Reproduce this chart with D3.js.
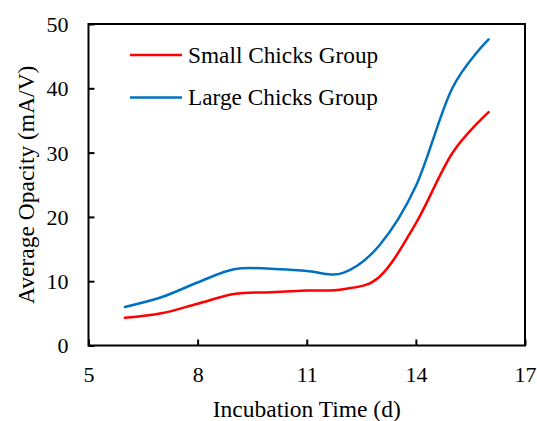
<!DOCTYPE html>
<html>
<head>
<meta charset="utf-8">
<script src="https://cdn.jsdelivr.net/npm/d3@7"></script>
<style>
  body { margin: 0; background: #fff; }
  svg { display: block; }
  svg text { font-family: "Liberation Serif", "Times New Roman", Times, Tinos, "DejaVu Serif", serif !important; fill: #000; }
</style>
</head>
<body>
<svg id="chart" width="537" height="421"></svg>
<script>
const days = [6, 7, 8, 9, 10, 11, 12, 13, 14, 15, 16];
const smallChicks = [4.3, 5.0, 6.5, 8.0, 8.3, 8.55, 8.75, 10.7, 19.0, 29.9, 36.3];
const largeChicks = [6.0, 7.5, 9.8, 11.85, 11.95, 11.6, 11.3, 15.6, 24.8, 40.0, 47.6];
const xTicks = [5, 8, 11, 14, 17];
const yTicks = [0, 10, 20, 30, 40, 50];
const seriesNames = ["Small Chicks Group", "Large Chicks Group"];
const seriesColors = ["#FF0000", "#0070C0"];

const svg = d3.select("#chart");
const mL = 88.5, mR = 525, mT = 24, mB = 345.5;

const x = d3.scaleLinear().domain([5, 17]).range([mL, mR]);
const y = d3.scaleLinear().domain([0, 50]).range([mB, mT]);

// frame
svg.append("rect")
  .attr("x", mL).attr("y", mT)
  .attr("width", mR - mL).attr("height", mB - mT)
  .attr("fill", "none").attr("stroke", "#000").attr("stroke-width", 2);

// x axis
const xAxis = d3.axisBottom(x).tickValues(xTicks).tickSizeInner(-6).tickSizeOuter(0).tickPadding(14);
const gx = svg.append("g").attr("transform", `translate(0,${mB})`).call(xAxis);
gx.attr("font-family", null).attr("font-size", null);
gx.select(".domain").remove();
gx.selectAll(".tick line").attr("stroke", "#000").attr("stroke-width", 2);
gx.selectAll(".tick text").style("font-size", "22px").attr("fill", "#000").attr("dy", "0.71em").attr("y", 21);

// y axis
const yAxis = d3.axisLeft(y).tickValues(yTicks).tickSizeInner(-6).tickSizeOuter(0).tickPadding(20);
const gy = svg.append("g").attr("transform", `translate(${mL},0)`).call(yAxis);
gy.attr("font-family", null).attr("font-size", null);
gy.select(".domain").remove();
gy.selectAll(".tick line").attr("stroke", "#000").attr("stroke-width", 2);
gy.selectAll(".tick text").style("font-size", "22px").attr("fill", "#000").attr("x", -20).attr("dy", "0.34em");

// lines
const line = d3.line()
  .x((d, i) => x(days[i]))
  .y(d => y(d))
  .curve(d3.curveCatmullRom.alpha(0));

[smallChicks, largeChicks].forEach((s, k) => {
  svg.append("path")
    .datum(s)
    .attr("d", line)
    .attr("fill", "none")
    .attr("stroke", seriesColors[k])
    .attr("stroke-width", 2.5)
    .attr("stroke-linecap", "round");
});

// axis titles
svg.append("text")
  .attr("x", (mL + mR) / 2).attr("y", 416.5)
  .attr("text-anchor", "middle").style("font-size", "23.5px")
  .text("Incubation Time (d)");

svg.append("text")
  .attr("transform", `translate(33.5,${(mT + mB) / 2}) rotate(-90)`)
  .attr("text-anchor", "middle").style("font-size", "23.5px")
  .text("Average Opacity (mA/V)");

// legend
const legendY = [55, 97.5];
seriesNames.forEach((name, k) => {
  svg.append("line")
    .attr("x1", 130).attr("x2", 182)
    .attr("y1", legendY[k]).attr("y2", legendY[k])
    .attr("stroke", seriesColors[k]).attr("stroke-width", 2.5);
  svg.append("text")
    .attr("x", 188).attr("y", legendY[k] + 7.5)
    .style("font-size", "23.3px")
    .text(name);
});
</script>
</body>
</html>
